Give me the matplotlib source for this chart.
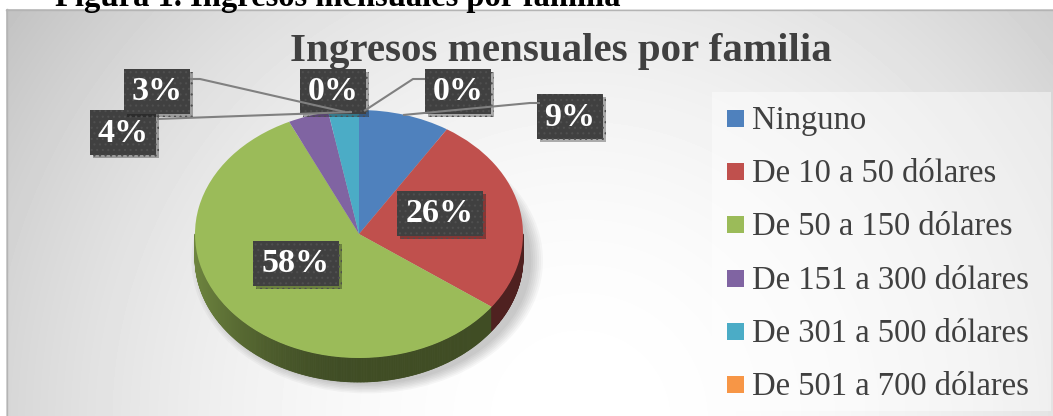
import matplotlib
import numpy as np

matplotlib.use("Agg")
import matplotlib.pyplot as plt  # noqa: E402
from matplotlib import patheffects  # noqa: E402
from matplotlib.collections import PolyCollection  # noqa: E402
from matplotlib.colors import to_rgb  # noqa: E402
from matplotlib.patches import Ellipse, Rectangle  # noqa: E402

W, H = 1053, 416

caption = "Figura 1. Ingresos mensuales por familia"
title = "Ingresos mensuales por familia"
categories = ["Ninguno", "De 10 a 50 dólares", "De 50 a 150 dólares", "De 151 a 300 dólares",
              "De 301 a 500 dólares", "De 501 a 700 dólares"]
percent = [9, 26, 58, 4, 3, 0, 0]          # 7th slice (0%) has no visible legend row
colors = ["#4F81BD", "#C0504D", "#9BBB59", "#8064A2", "#4BACC6", "#F79646", "#2C4D75"]

# layout, in pixels (y down): label box centres per slice and their leader lines
label_xy = [(570, 116), (440, 213), (296, 263), (123, 132), (157, 91), (333, 91), (458, 91)]
leaders = [[(540, 103), (530, 103), (403, 115)], None, None, [(157, 119), (352, 112)],
           [(190, 79), (200, 79), (345, 112)], None, [(364, 111), (413, 79), (425, 79)]]
CX, CY, RX, RY, DEPTH = 359, 234, 164, 124, 24   # pie top ellipse + side thickness

plt.rcParams["font.family"] = ["Liberation Serif", "DejaVu Serif"]
plt.rcParams["hatch.linewidth"] = 0.8


def px_axes(fig, x0, y0, x1, y1):
    return fig.add_axes([x0 / W, 1 - y1 / H, (x1 - x0) / W, (y1 - y0) / H])


def flat_axes(fig):
    ax = px_axes(fig, 0, 0, W, H)
    ax.set_xlim(0, W)
    ax.set_ylim(H, 0)
    ax.axis("off")
    return ax


fig = plt.figure(figsize=(W / 100, H / 100), dpi=100)

# background: grey radial gradient inside a thin frame
bg = flat_axes(fig)
yy, xx = np.mgrid[9:H, 6:W]
d = np.hypot(xx - 580, yy - 420) / 706
grad = 1 - 0.24 * np.clip(d, 0, 1.2) ** 2
bg.imshow(grad, cmap="gray", vmin=0, vmax=1, extent=(6, W, H, 9), aspect="auto", zorder=0)
bg.set_xlim(0, W)
bg.set_ylim(H, 0)
bg.plot([6, W], [9.5, 9.5], color="#b4b4b4", lw=1)
bg.plot([6.5, 6.5], [9, H], color="#b4b4b4", lw=1)
bg.text(55, 6, caption, fontsize=23.5, fontweight="bold", color="black", va="baseline")
bg.text(561, 61, title, fontsize=29.5, fontweight="bold", color="#404040", ha="center", va="baseline")

# pie: squashed axes so the unit circle becomes the top ellipse
lim_x, lim_y = (-1.1, 1.1), (-1.3, 1.1)
pax = px_axes(fig, CX + lim_x[0] * RX, CY - lim_y[1] * RY, CX + lim_x[1] * RX, CY - lim_y[0] * RY)
dz = DEPTH / RY

for k in range(7):
    pax.add_patch(Ellipse((0.05, -dz - 0.02), 2 * (1.0 + 0.012 * k), 2 * (1.0 + 0.012 * k),
                          fc="black", ec="none", alpha=0.03, clip_on=False))

# side wall, shaded by angle, slice colour picked from cumulative percentages
cum = np.concatenate([[0], np.cumsum(percent)])
theta = np.linspace(-180, 0, 361)
polys, fcs = [], []
for t0, t1 in zip(theta[:-1], theta[1:]):
    tm = np.radians((t0 + t1) / 2)
    frac = ((90 - np.degrees(tm)) % 360) / 360 * cum[-1]
    k = min(np.searchsorted(cum, frac, side="right") - 1, len(percent) - 1)
    a0, a1 = np.radians(t0), np.radians(t1)
    polys.append([(np.cos(a0), np.sin(a0)), (np.cos(a1), np.sin(a1)),
                  (np.cos(a1), np.sin(a1) - dz), (np.cos(a0), np.sin(a0) - dz)])
    shade = 0.41 + 0.3 * max(0.0, -np.cos(tm)) ** 2
    fcs.append(tuple(c * shade for c in to_rgb(colors[k])))
pax.add_collection(PolyCollection(polys, facecolors=fcs, edgecolors=fcs, linewidths=0.6))

pax.pie(percent, colors=colors, startangle=90, counterclock=False, wedgeprops=dict(linewidth=0))
pax.set_aspect("auto")
pax.set_xlim(*lim_x)
pax.set_ylim(*lim_y)
pax.axis("off")

# overlay: leader lines, data labels, legend
ov = flat_axes(fig)
for pts in leaders:
    if pts:
        ov.plot([p[0] for p in pts], [p[1] for p in pts], color="#808080", lw=1.5, solid_capstyle="butt")

shadow = [patheffects.SimplePatchShadow(offset=(2.5, -2.5), shadow_rgbFace="black", alpha=0.3),
          patheffects.Normal()]
for (x, y), v in zip(label_xy, percent):
    s = f"{v}%"
    w, h = 26 + 20 * len(s), 45
    box = Rectangle((x - w / 2, y - h / 2), w, h, fc="#404040", ec="#4f4f4f", lw=0, hatch="...")
    box.set_path_effects(shadow)
    ov.add_patch(box)
    ov.text(x, y + 1, s, fontsize=24.5, fontweight="bold", color="white", ha="center", va="center")

ov.add_patch(Rectangle((712, 92), 339, 319, fc="white", ec="none", alpha=0.45))
for i, (name, c) in enumerate(zip(categories, colors)):
    yc = 118.5 + i * 53.2
    ov.add_patch(Rectangle((727, yc - 8.5), 17, 17, fc=c, ec="none"))
    ov.text(752, yc + 10.5, name, fontsize=23.5, color="#404040", va="baseline")

fig.savefig("out.png", dpi=100)
